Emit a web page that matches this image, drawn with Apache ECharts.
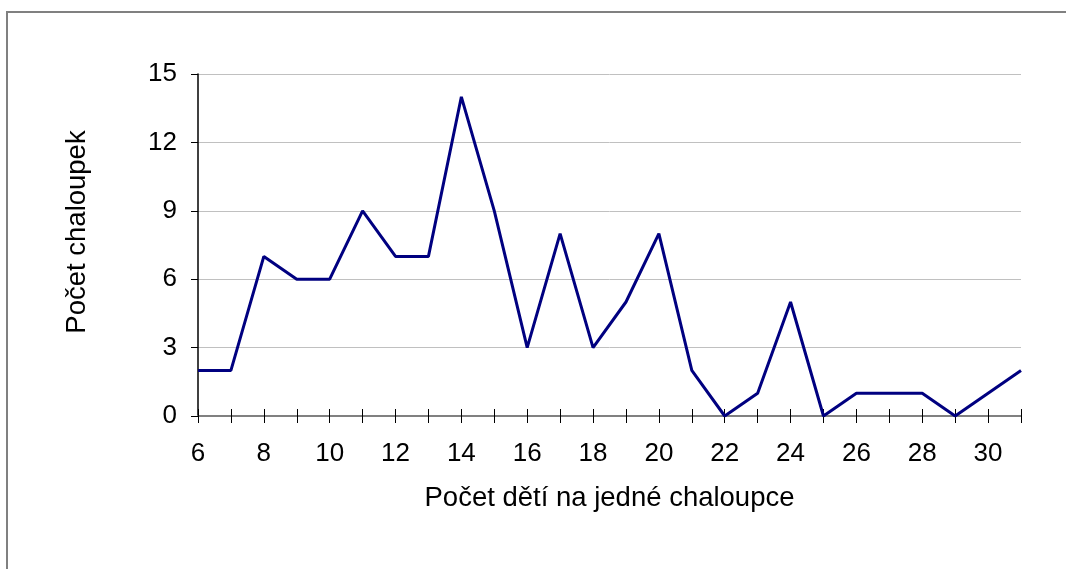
<!DOCTYPE html>
<html><head><meta charset="utf-8">
<script src="https://cdn.jsdelivr.net/npm/echarts@6/dist/echarts.min.js"></script>
<style>html,body{margin:0;padding:0;background:#fff}#c{width:1066px;height:569px}</style>
</head><body><div id="c"></div>
<script>
var categories = ['6','7','8','9','10','11','12','13','14','15','16','17','18','19','20','21','22','23','24','25','26','27','28','29','30','31'];
var values = [2,2,7,6,6,9,7,7,14,9,3,8,3,5,8,2,0,1,5,0,1,1,1,0,1,2];
var yTicks = {min:0, max:15, interval:3};
var xTitle = 'Počet dětí na jedné chaloupce';
var yTitle = 'Počet chaloupek';

var chart = echarts.init(document.getElementById('c'), null, {renderer:'canvas'});
var font = 'Liberation Sans, Arial, sans-serif';
chart.setOption({
  animation:false,
  backgroundColor:'#fff',
  graphic:[
    {type:'rect', shape:{x:7,y:12,width:1200,height:700}, style:{fill:'none', stroke:'#808080', lineWidth:2}, z:-1},
    {type:'text', x:77, y:232, rotation:Math.PI/2,
     style:{text:yTitle, fontFamily:font, fontSize:27.5, fill:'#000', align:'center', verticalAlign:'middle'}}
  ],
  grid:{left:198,right:45,top:74,bottom:153,containLabel:false},
  xAxis:[{
    type:'category', data:categories, boundaryGap:false,
    name:xTitle, nameLocation:'middle', nameGap:68,
    nameTextStyle:{fontFamily:font,fontSize:27.5,color:'#000'},
    axisLine:{lineStyle:{color:'#808080',width:2}},
    axisTick:{show:true,interval:0,length:7,lineStyle:{color:'#000',width:1}},
    axisLabel:{interval:1,margin:25,fontFamily:font,fontSize:26,color:'#000'},
    splitLine:{show:false}
  },{
    type:'category', data:categories, boundaryGap:false, position:'bottom',
    axisLine:{show:false},
    axisTick:{show:true,inside:true,interval:0,length:7,lineStyle:{color:'#000',width:1}},
    axisLabel:{show:false}, splitLine:{show:false}
  }],
  yAxis:{
    type:'value', min:yTicks.min, max:yTicks.max, interval:yTicks.interval,
    axisLine:{show:true,lineStyle:{color:'#000',width:1.5}},
    axisTick:{show:true,length:7,lineStyle:{color:'#000'}},
    axisLabel:{margin:21,fontFamily:font,fontSize:26,color:'#000'},
    splitLine:{show:true,lineStyle:{color:'#c0c0c0',width:1}}
  },
  series:[{type:'line', data:values, symbol:'none', lineStyle:{color:'#000080',width:3}, itemStyle:{color:'#000080'}}]
});
</script></body></html>
